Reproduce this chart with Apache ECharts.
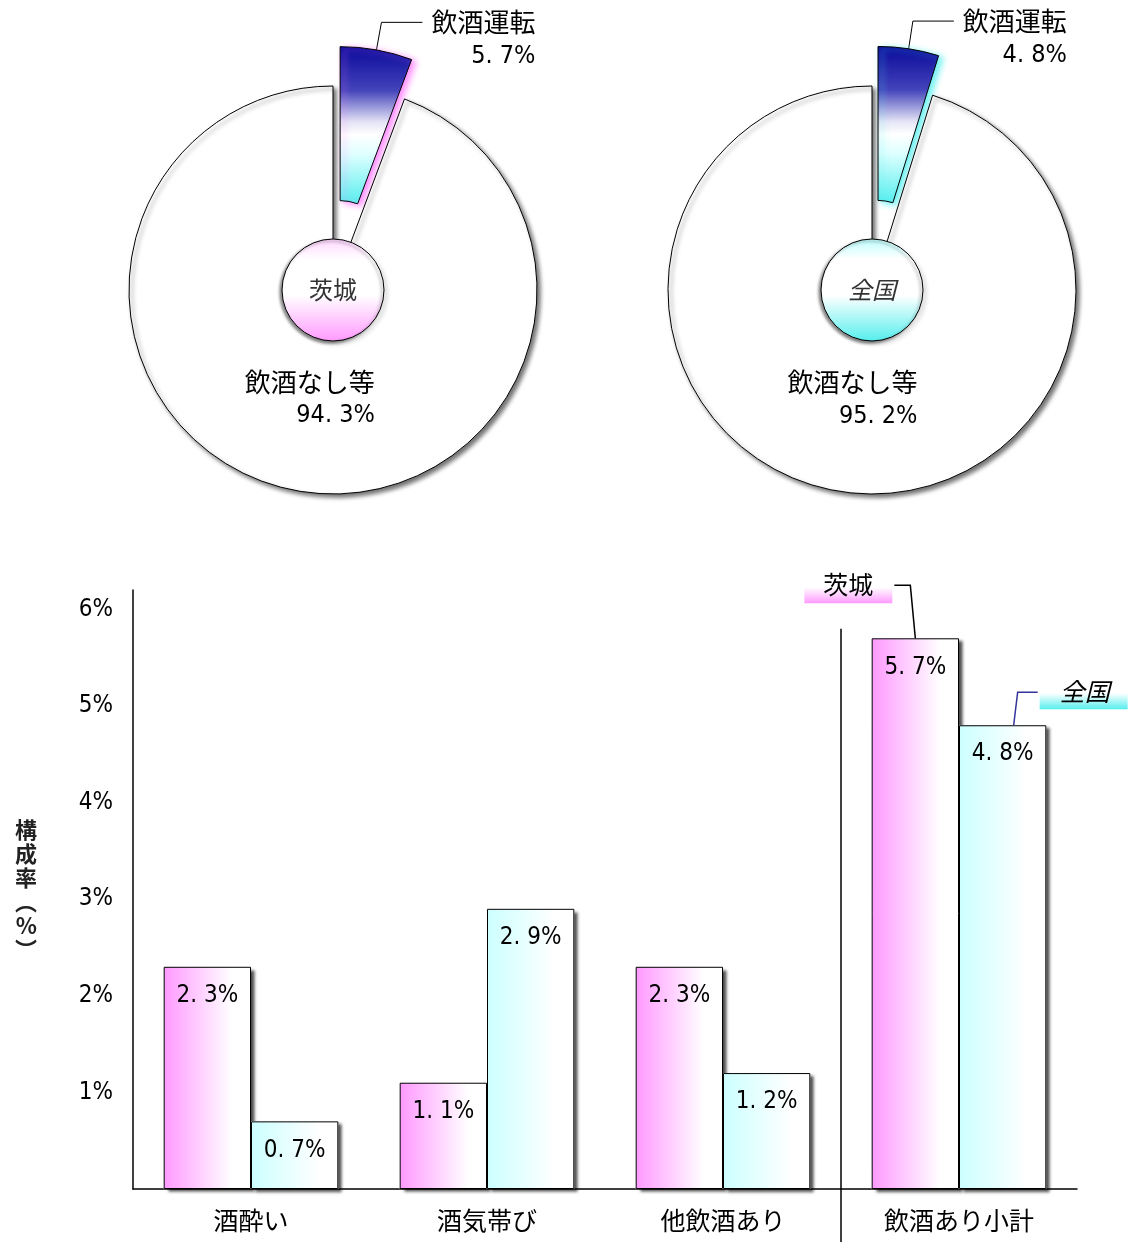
<!DOCTYPE html>
<html><head><meta charset="utf-8">
<script src="https://cdn.jsdelivr.net/npm/echarts@6/dist/echarts.min.js"></script>
<style>html,body{margin:0;padding:0;background:#fff}#c{width:1128px;height:1242px}</style>
</head><body><div id="c"></div>
<script>
// ---- data ----
const pieNames = ['飲酒運転', '飲酒なし等'];
const ibarakiPie = [5.7, 94.3];
const zenkokuPie = [4.8, 95.2];
const regionNames = ['茨城', '全国'];
const categories = ['酒酔い', '酒気帯び', '他飲酒あり', '飲酒あり小計'];
const ibarakiBar = [2.3, 1.1, 2.3, 5.7];
const zenkokuBar = [0.7, 2.9, 1.2, 4.8];
const yAxisName = '構成率（%）';

// ---- styles ----
const CJK = "'Noto Sans CJK JP', sans-serif";
const NUM = "'DejaVu Sans Condensed', 'Liberation Sans Narrow', 'Noto Sans CJK JP', sans-serif";
const fmtPct = v => String(v).replace('.', '. ') + '%';
const G = echarts.graphic;
const PINK = '#ff99ff', CYAN = '#55eeee';

function sliceGrad() {
  return new G.LinearGradient(0, 0, 0, 1, [
    {offset: 0, color: '#08089a'}, {offset: 0.28, color: '#4444bb'},
    {offset: 0.48, color: '#e4e4f6'}, {offset: 0.56, color: '#ffffff'}, {offset: 0.68, color: '#e0ffff'}, {offset: 1, color: CYAN}
  ]);
}
const richPie = {
  a: {fontSize: 26, fontFamily: CJK, lineHeight: 34, color: '#000'},
  b: {fontSize: 25, fontFamily: NUM, lineHeight: 34, color: '#000', align: 'right'}
};

function donut(values, center, glow) {
  return {
    type: 'pie', center: center, radius: [50, 204], startAngle: 90,
    selectedMode: 'single', selectedOffset: 40, avoidLabelOverlap: false,
    emphasis: {disabled: true}, z: 2,
    data: values.map((v, i) => i === 0 ? {
      value: v, name: pieNames[0], selected: true,
      itemStyle: {color: sliceGrad(), borderColor: '#000', borderWidth: 1, shadowColor: glow,
                  shadowBlur: 6, shadowOffsetX: 4, shadowOffsetY: 2},
      label: {show: true, position: 'outside', formatter: '{a|' + pieNames[0] + '}\n{b|' + fmtPct(v) + '}',
              rich: richPie, padding: [34, 0, 0, 0], distanceToLabelLine: 9},
      labelLine: {show: true, length: 28, length2: 41, smooth: false, lineStyle: {color: '#000', width: 1}}
    } : {
      value: v, name: pieNames[1],
      itemStyle: {color: '#fff', borderColor: '#000', borderWidth: 1,
                  shadowColor: 'rgba(0,0,0,0.55)', shadowBlur: 4, shadowOffsetX: 3, shadowOffsetY: 3},
      label: {show: true, position: 'inside', formatter: '{a|' + pieNames[1] + '}\n{b|' + fmtPct(v) + '}',
              rich: richPie, padding: [0, 0, 38, 0]},
      labelLine: {show: false}
    })
  };
}
function centerDisc(center, name, c1, c2, italic) {
  return {
    type: 'pie', center: center, radius: [0, 51], silent: true, z: 4,
    emphasis: {disabled: true},
    data: [{value: 1, name: name}],
    label: {show: true, position: 'center', formatter: name, fontSize: 24, fontFamily: CJK,
            color: '#333', fontStyle: italic ? 'italic' : 'normal'},
    labelLine: {show: false},
    itemStyle: {
      color: new G.LinearGradient(0, 0, 0, 1, [
        {offset: 0, color: c1}, {offset: 0.2, color: '#ffffff'}, {offset: 0.55, color: '#ffffff'}, {offset: 1, color: c2}]),
      borderColor: '#000', borderWidth: 1,
      shadowColor: 'rgba(0,0,0,0.45)', shadowBlur: 3, shadowOffsetX: -2, shadowOffsetY: 2
    }
  };
}
function barGrad(c) {
  return new G.LinearGradient(0, 0, 1, 0, [{offset: 0, color: c}, {offset: 0.78, color: '#ffffff'}, {offset: 1, color: '#ffffff'}]);
}
const barLabel = {show: true, position: 'insideTop', distance: 17, formatter: p => fmtPct(p.value),
  fontSize: 24, fontFamily: NUM, color: '#000'};
const frontBar = (name, data, c) => ({type: 'bar', name: name, data: data, xAxisIndex: 0, barWidth: '37%', barGap: '0%',
  itemStyle: {color: barGrad(c), borderColor: '#000', borderWidth: 1}, label: barLabel, emphasis: {disabled: true}, z: 3});
const shadowBar = (name, data) => ({type: 'bar', name: name + '影', data: data, xAxisIndex: 1, barWidth: '37%', barGap: '0%',
  itemStyle: {color: '#fff', shadowColor: 'rgba(0,0,0,0.7)', shadowBlur: 3, shadowOffsetX: 4, shadowOffsetY: 3},
  silent: true, emphasis: {disabled: true}, z: 1});

const chart = echarts.init(document.getElementById('c'), null, {renderer: 'canvas'});
chart.setOption({
  animation: false,
  backgroundColor: '#fff',
  grid: {left: 133, right: 51, top: 590, bottom: 53, containLabel: false},
  xAxis: [{type: 'category', data: categories,
    axisLine: {lineStyle: {color: '#000', width: 1.5}}, axisTick: {show: false},
    axisLabel: {fontSize: 25, fontFamily: CJK, color: '#000', margin: 19}},
    {type: 'category', data: categories, show: false}],
  yAxis: {type: 'value', min: 0, max: 6.2, interval: 1,
    name: yAxisName.split('').map(ch => ch === '（' ? '︵' : ch === '）' ? '︶' : ch).join('\n'),
    nameLocation: 'middle', nameGap: 96, nameRotate: 0,
    nameTextStyle: {fontSize: 22, fontFamily: CJK, fontWeight: 'bold', color: '#222', lineHeight: 24},
    axisLine: {show: true, lineStyle: {color: '#000', width: 1.5}}, axisTick: {show: false},
    splitLine: {show: false},
    axisLabel: {fontSize: 24, fontFamily: NUM, color: '#000', margin: 20,
      formatter: v => (v > 0 && Math.abs(v - Math.round(v)) < 1e-9) ? v + '%' : ''}},
  series: [
    shadowBar(regionNames[0], ibarakiBar),
    shadowBar(regionNames[1], zenkokuBar),
    frontBar(regionNames[0], ibarakiBar, PINK),
    frontBar(regionNames[1], zenkokuBar, '#ccffff'),
    donut(ibarakiPie, [333, 290], 'rgba(255,120,255,0.85)'),
    donut(zenkokuPie, [872, 290], 'rgba(80,240,240,0.85)'),
    centerDisc([333, 290], regionNames[0], '#ffd6ff', PINK, false),
    centerDisc([872, 290], regionNames[1], '#bfffff', CYAN, true)
  ]
});

// ---- separator + callouts derived from the axes ----
function barTop(seriesIndex, idx) {
  const lay = chart.getModel().getSeriesByIndex(seriesIndex).getData().getItemLayout(idx);
  return {cx: lay.x + lay.width / 2, top: Math.min(lay.y, lay.y + lay.height)};
}
const last = categories.length - 1;
const pA = chart.convertToPixel({xAxisIndex: 0}, last - 1);
const pB = chart.convertToPixel({xAxisIndex: 0}, last);
const sepX = (pA + pB) / 2;
const sepTop = chart.convertToPixel({yAxisIndex: 0}, Math.max(...ibarakiBar, ...zenkokuBar) + 0.1);
const b1 = barTop(2, last), b2 = barTop(3, last);
const boxGrad = c => new G.LinearGradient(0, 0, 0, 1, [{offset: 0, color: '#ffffff'}, {offset: 1, color: c}]);
chart.setOption({
  graphic: [
    {type: 'line', shape: {x1: sepX, y1: sepTop, x2: sepX, y2: 1242}, style: {stroke: '#000', lineWidth: 1.5}, z: 5},
    {type: 'rect', shape: {x: b1.cx - 111, y: b1.top - 51, width: 88, height: 16}, style: {fill: boxGrad(PINK)}, z: 5},
    {type: 'text', x: b1.cx - 67, y: b1.top - 54, style: {text: regionNames[0], font: '25px ' + CJK, fill: '#000', align: 'center', verticalAlign: 'middle'}, z: 6},
    {type: 'polyline', shape: {points: [[b1.cx - 21, b1.top - 53], [b1.cx - 5, b1.top - 53], [b1.cx, b1.top]]}, style: {stroke: '#000', lineWidth: 1.5, fill: null}, z: 6},
    {type: 'rect', shape: {x: b2.cx + 37, y: b2.top - 32, width: 88, height: 16}, style: {fill: boxGrad(CYAN)}, z: 5},
    {type: 'text', x: b2.cx + 82, y: b2.top - 34, style: {text: regionNames[1], font: 'italic 25px ' + CJK, fill: '#000', align: 'center', verticalAlign: 'middle'}, z: 6},
    {type: 'polyline', shape: {points: [[b2.cx + 35, b2.top - 33], [b2.cx + 15, b2.top - 33], [b2.cx + 11, b2.top]]}, style: {stroke: '#333399', lineWidth: 1.5, fill: null}, z: 6}
  ]
});
</script>
</body></html>
